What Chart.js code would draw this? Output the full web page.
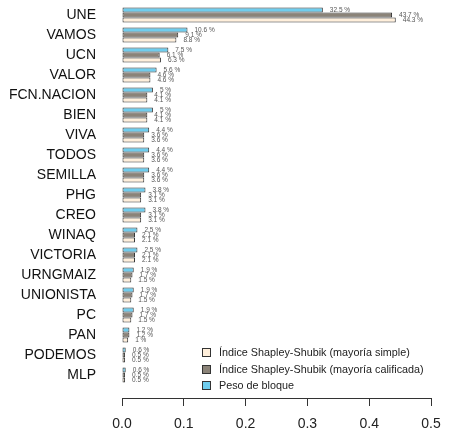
<!DOCTYPE html>
<html>
<head>
<meta charset="utf-8">
<script src="https://cdn.jsdelivr.net/npm/chart.js@4.4.1/dist/chart.umd.min.js"></script>
<style>
  html, body { margin: 0; padding: 0; background: #fff; }
  #wrap { position: relative; width: 467px; height: 439px; }
  #legend { position: absolute; left: 202px; top: 344px; font: 10.8px "Liberation Sans", Arial, sans-serif; color: #222; }
  #legend div { height: 16.5px; line-height: 16.5px; white-space: nowrap; }
  #legend span { display: inline-block; width: 7px; height: 7px; border: 1px solid #333; margin-right: 8px; vertical-align: -1px; }
</style>
</head>
<body>
<div id="wrap">
  <canvas id="powerChart" width="467" height="439"></canvas>
  <div id="legend"></div>
</div>
<script>
// Parties, top to bottom
const parties = ['UNE', 'VAMOS', 'UCN', 'VALOR', 'FCN.NACION', 'BIEN', 'VIVA', 'TODOS', 'SEMILLA', 'PHG',
    'CREO', 'WINAQ', 'VICTORIA', 'URNGMAIZ', 'UNIONISTA', 'PC', 'PAN', 'PODEMOS', 'MLP'];

// Values in percent
const pesoBloque   = [32.5, 10.6, 7.5, 5.6, 5, 5, 4.4, 4.4, 4.4, 3.8, 3.8, 2.5, 2.5, 1.9, 1.9, 1.9, 1.2, 0.6, 0.6];
const ssCalificada = [43.7, 9.1, 6.1, 4.6, 4.1, 4.1, 3.6, 3.6, 3.6, 3.1, 3.1, 2.1, 2.1, 1.7, 1.7, 1.7, 1.2, 0.5, 0.5];
const ssSimple     = [44.3, 8.8, 6.3, 4.6, 4.1, 4.1, 3.6, 3.6, 3.6, 3.1, 3.1, 2.1, 2.1, 1.5, 1.5, 1.5, 1, 0.5, 0.5];

const xTicks = [0, 0.1, 0.2, 0.3, 0.4, 0.5];

const series = [
    { label: 'Peso de bloque', values: pesoBloque, color: '#6fcdee' },
    { label: 'Índice Shapley-Shubik (mayoría calificada)', values: ssCalificada, color: '#8b8378' },
    { label: 'Índice Shapley-Shubik (mayoría simple)', values: ssSimple, color: '#ffefdb' }
];

// percent labels next to each bar
const barLabels = {
    id: 'barLabels',
    afterDatasetsDraw(chart) {
        const ctx = chart.ctx;
        ctx.save();
        ctx.font = '6.5px "Liberation Sans", Arial, sans-serif';
        ctx.fillStyle = '#555';
        ctx.textAlign = 'left';
        ctx.textBaseline = 'middle';
        series.forEach((s, i) => {
            chart.getDatasetMeta(i).data.forEach((el, j) => {
                ctx.fillText(s.values[j] + ' %', el.x + 7, el.y);
            });
        });
        ctx.restore();
    }
};

const ctx = document.getElementById('powerChart').getContext('2d');
const powerChart = new Chart(ctx, {
    type: 'bar',
    data: {
        datasets: series.map(s => ({
            label: s.label,
            data: s.values.map((v, i) => ({ x: v / 100, y: i })),
            backgroundColor: s.color,
            borderColor: '#333',
            borderWidth: 1,
            borderSkipped: false,
            categoryPercentage: 0.75,
            barPercentage: 1
        }))
    },
    options: {
        indexAxis: 'y',
        responsive: false,
        animation: false,
        layout: { padding: { top: 5, right: 36, bottom: 0, left: 0 } },
        plugins: {
            legend: { display: false },
            tooltip: { enabled: false }
        },
        scales: {
            x: {
                type: 'linear',
                min: 0,
                max: 0.5,
                afterBuildTicks: s => { s.ticks = xTicks.map(v => ({ value: v })); },
                afterFit: s => { s.height = 41; },
                grid: { drawOnChartArea: false, drawTicks: true, tickLength: 8, color: '#333' },
                border: { display: true, color: '#333', width: 1 },
                ticks: {
                    padding: 10,
                    color: '#222',
                    font: { family: '"Liberation Sans", Arial, sans-serif', size: 14 },
                    maxRotation: 0,
                    callback: v => v.toFixed(1)
                }
            },
            y: {
                type: 'linear',
                reverse: true,
                offset: false,
                min: -0.5,
                max: 19.15,
                afterBuildTicks: s => { s.ticks = parties.map((p, i) => ({ value: i })); },
                afterFit: s => { s.width = 122; s.paddingTop = 0; s.paddingBottom = 0; },
                grid: { display: false },
                border: { display: false },
                ticks: {
                    padding: 18,
                    color: '#111',
                    autoSkip: false,
                    font: { family: '"Liberation Sans", Arial, sans-serif', size: 14 },
                    callback: v => parties[v]
                }
            }
        }
    },
    plugins: [barLabels]
});

// legend, in the order of the reference (simple, calificada, peso)
const legend = document.getElementById('legend');
series.slice().reverse().forEach(s => {
    const row = document.createElement('div');
    const box = document.createElement('span');
    box.style.background = s.color;
    row.appendChild(box);
    row.appendChild(document.createTextNode(s.label));
    legend.appendChild(row);
});
</script>
</body>
</html>
